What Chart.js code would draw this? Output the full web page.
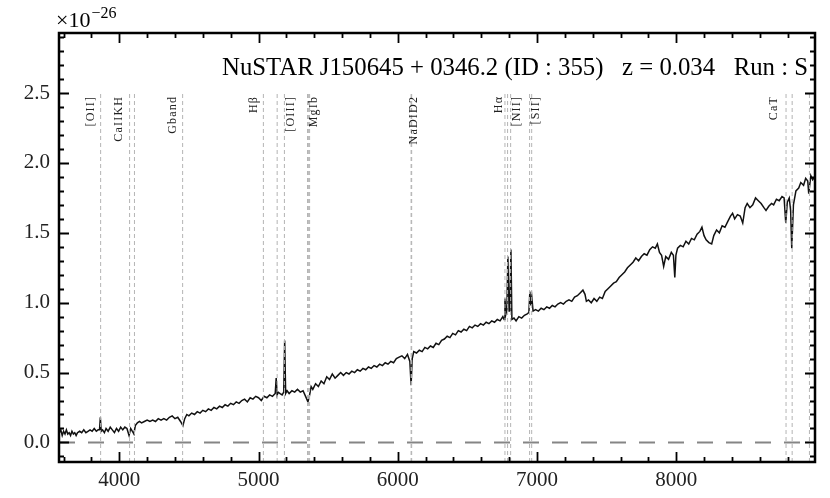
<!DOCTYPE html>
<html><head><meta charset="utf-8">
<script src="https://cdn.jsdelivr.net/npm/chart.js@4"></script>
<style>html,body{margin:0;padding:0;background:#fff}#wrap{width:830px;height:498px;position:relative}</style>
</head><body><div id="wrap"><canvas id="c" width="830" height="498"></canvas></div>
<script>
// ---- data (observed wavelength in Å, flux in units of 1e-26) ----
const wavelength = [3570,3580,3590,3600,3610,3620,3630,3640,3650,3660,3670,3680,3690,3700,3715,3730,3745,3760,3775,3790,3805,3820,3835,3848,3858,3864,3870,3880,3893,3905,3920,3935,3950,3965,3980,3995,4010,4025,4040,4055,4070,4082,4094,4105,4115,4130,4145,4160,4180,4200,4220,4240,4260,4280,4300,4320,4340,4360,4380,4400,4420,4440,4457,4470,4485,4500,4520,4540,4560,4580,4600,4620,4640,4660,4680,4700,4720,4740,4760,4780,4800,4820,4840,4860,4880,4900,4920,4940,4960,4980,5000,5020,5040,5060,5080,5100,5120,5127,5134,5141,5155,5170,5181,5188,5195,5205,5220,5240,5260,5280,5300,5320,5338,5355,5365,5378,5390,5410,5430,5450,5470,5490,5510,5530,5550,5570,5590,5610,5630,5650,5670,5690,5710,5730,5750,5770,5790,5810,5830,5850,5870,5890,5910,5930,5950,5970,5990,6010,6030,6050,6070,6087,6096,6104,6115,6135,6155,6175,6195,6215,6235,6255,6275,6295,6315,6335,6355,6375,6395,6415,6435,6455,6475,6495,6515,6535,6555,6575,6595,6615,6635,6655,6675,6695,6715,6735,6755,6764,6770,6777,6784,6791,6800,6806,6813,6820,6835,6850,6870,6890,6910,6930,6942,6949,6956,6963,6972,6990,7010,7030,7050,7070,7090,7110,7130,7150,7170,7190,7210,7230,7250,7270,7290,7310,7330,7345,7355,7370,7390,7410,7430,7450,7470,7490,7510,7530,7550,7570,7590,7610,7630,7650,7670,7690,7710,7730,7750,7770,7790,7810,7830,7850,7865,7880,7895,7910,7925,7945,7965,7980,7990,7998,8010,8030,8050,8070,8090,8110,8130,8150,8170,8185,8200,8215,8235,8255,8270,8290,8310,8330,8350,8370,8390,8405,8420,8440,8460,8478,8495,8510,8530,8550,8570,8590,8610,8630,8645,8665,8685,8700,8720,8740,8760,8775,8787,8798,8812,8822,8830,8842,8860,8880,8895,8915,8930,8945,8952,8967,8980,8995];
const flux = [0.07,0.09,0.05,0.08,0.06,0.09,0.06,0.07,0.05,0.08,0.06,0.07,0.05,0.07,0.08,0.07,0.09,0.07,0.08,0.09,0.08,0.10,0.08,0.09,0.09,0.18,0.08,0.09,0.07,0.10,0.08,0.11,0.09,0.07,0.10,0.08,0.11,0.09,0.11,0.10,0.05,0.10,0.08,0.06,0.12,0.14,0.15,0.14,0.15,0.16,0.15,0.16,0.15,0.17,0.16,0.17,0.16,0.18,0.19,0.17,0.18,0.15,0.12,0.17,0.20,0.19,0.21,0.20,0.22,0.21,0.23,0.22,0.24,0.23,0.25,0.24,0.26,0.25,0.27,0.26,0.28,0.27,0.29,0.28,0.30,0.31,0.29,0.32,0.31,0.33,0.32,0.30,0.33,0.32,0.34,0.33,0.35,0.46,0.34,0.36,0.35,0.34,0.36,0.73,0.35,0.37,0.35,0.37,0.36,0.38,0.36,0.37,0.33,0.29,0.33,0.40,0.38,0.42,0.40,0.44,0.42,0.47,0.45,0.49,0.46,0.48,0.50,0.48,0.50,0.49,0.51,0.50,0.52,0.51,0.53,0.52,0.54,0.53,0.55,0.54,0.56,0.55,0.57,0.56,0.58,0.57,0.60,0.61,0.62,0.60,0.63,0.58,0.41,0.60,0.65,0.64,0.66,0.65,0.68,0.67,0.69,0.68,0.71,0.70,0.73,0.74,0.76,0.75,0.78,0.77,0.80,0.79,0.81,0.80,0.83,0.82,0.84,0.83,0.85,0.84,0.86,0.85,0.87,0.86,0.88,0.87,0.90,0.88,1.03,0.92,0.95,1.33,0.94,0.97,1.38,0.88,0.89,0.87,0.90,0.89,0.91,0.92,0.93,1.08,0.98,1.04,0.94,0.95,0.94,0.96,0.95,0.97,0.96,0.98,0.97,0.99,1.00,0.99,1.01,1.02,1.01,1.04,1.05,1.07,1.09,1.06,1.01,1.02,1.00,1.03,1.01,1.04,1.03,1.08,1.10,1.12,1.14,1.15,1.18,1.20,1.22,1.25,1.27,1.29,1.32,1.30,1.33,1.35,1.34,1.38,1.40,1.39,1.42,1.36,1.34,1.26,1.33,1.31,1.36,1.34,1.18,1.34,1.39,1.41,1.40,1.44,1.42,1.46,1.45,1.49,1.51,1.54,1.48,1.45,1.43,1.42,1.48,1.52,1.50,1.55,1.54,1.58,1.62,1.64,1.60,1.63,1.62,1.57,1.68,1.71,1.68,1.70,1.75,1.73,1.71,1.68,1.66,1.69,1.71,1.70,1.74,1.73,1.76,1.75,1.57,1.72,1.75,1.66,1.39,1.70,1.80,1.82,1.86,1.84,1.89,1.87,1.78,1.91,1.88,1.90];
const lineWaves = [3866,4074,4109,4455,5035,5134,5186,5352,5358,5367,6096,6100,6770,6789,6811,6947,6962,8789,8833,8957];
const lineLabels = ['[OII]','CaIIKH','Gband','H\u03B2','[OIII]','MgIb','NaDID2','H\u03B1','[NII]','[SII]','CaT'];
const labelWaves = [3797,3998,4386,4967,5233,5398,6116,6727,6856,6993,8704];
const xTicks = [4000,5000,6000,7000,8000];
const yTicks = [0,0.5,1,1.5,2,2.5];
const titleText = 'NuSTAR J150645 + 0346.2 (ID : 355)   z = 0.034   Run : S';
const xRange = [3567, 8997];
const yRange = [-0.14, 2.93];
const lineTop = 2.51;
const labelTop = 2.48;

const SERIF = '"Liberation Serif", "DejaVu Serif", serif';

const spectrum = wavelength.map((w, i) => ({x: w, y: flux[i]}));
const datasets = [];
lineWaves.forEach(w => {
  datasets.push({data: [{x: w, y: yRange[0]}, {x: w, y: lineTop}], borderColor: '#b4b4b4', borderWidth: 1, borderDash: [4, 3], pointRadius: 0, showLine: true});
});
datasets.push({data: [{x: xRange[0], y: 0}, {x: xRange[1], y: 0}], borderColor: '#858585', borderWidth: 2, borderDash: [16, 13], pointRadius: 0, showLine: true});
datasets.push({data: spectrum, borderColor: '#111', borderWidth: 1.5, pointRadius: 0, showLine: true, tension: 0});

const decor = {
  id: 'decor',
  afterDraw(chart) {
    const ctx = chart.ctx, a = chart.chartArea, xs = chart.scales.x, ys = chart.scales.y;
    ctx.save();
    // line labels
    ctx.fillStyle = '#222';
    ctx.font = '12px ' + SERIF;
    if ('letterSpacing' in ctx) ctx.letterSpacing = '1.2px';
    ctx.textAlign = 'right';
    ctx.textBaseline = 'middle';
    lineLabels.forEach((t, i) => {
      const px = xs.getPixelForValue(labelWaves[i]);
      const py = ys.getPixelForValue(labelTop);
      ctx.save();
      ctx.translate(px, py);
      ctx.rotate(-Math.PI / 2);
      ctx.fillText(t, 0, 0);
      ctx.restore();
    });
    if ('letterSpacing' in ctx) ctx.letterSpacing = '0px';
    // ticks (inward, all four sides)
    ctx.strokeStyle = '#000';
    ctx.lineWidth = 1.8;
    ctx.beginPath();
    for (let v = 3600; v <= 9000; v += 200) {
      if (v < xRange[0] || v > xRange[1]) continue;
      const major = v % 1000 === 0;
      const len = major ? 10 : 5;
      const px = Math.round(xs.getPixelForValue(v)) + 0.5;
      ctx.moveTo(px, a.bottom); ctx.lineTo(px, a.bottom - len);
      ctx.moveTo(px, a.top); ctx.lineTo(px, a.top + len);
    }
    for (let k = -1; k <= 29; k++) {
      const v = k / 10;
      const major = k % 5 === 0;
      const len = major ? 10 : 5;
      const py = Math.round(ys.getPixelForValue(v)) + 0.5;
      ctx.moveTo(a.left, py); ctx.lineTo(a.left + len, py);
      ctx.moveTo(a.right, py); ctx.lineTo(a.right - len, py);
    }
    ctx.stroke();
    // frame
    ctx.lineWidth = 2.5;
    ctx.strokeRect(a.left, a.top, a.right - a.left, a.bottom - a.top);
    // title
    ctx.fillStyle = '#000';
    ctx.textAlign = 'right';
    ctx.textBaseline = 'alphabetic';
    let fs = 20;
    ctx.font = fs + 'px ' + SERIF;
    const w = ctx.measureText(titleText).width;
    fs = fs * 586 / w;
    ctx.font = fs.toFixed(2) + 'px ' + SERIF;
    ctx.fillText(titleText, a.right - 7, 75);
    // multiplier
    ctx.textAlign = 'left';
    ctx.font = '22px ' + SERIF;
    ctx.fillText('\u00D710', 56, 27);
    const mw = ctx.measureText('\u00D710').width;
    ctx.font = '16px ' + SERIF;
    ctx.fillText('\u221226', 56 + mw + 1, 18);
    ctx.restore();
  }
};

new Chart(document.getElementById('c'), {
  type: 'scatter',
  data: {datasets},
  options: {
    responsive: false,
    devicePixelRatio: 1,
    animation: false,
    layout: {padding: {top: 33, right: 15, left: 0, bottom: 0}},
    plugins: {legend: {display: false}, tooltip: {enabled: false}},
    scales: {
      x: {
        type: 'linear', position: 'bottom', min: xRange[0], max: xRange[1],
        grid: {display: false, drawTicks: false},
        border: {display: false},
        ticks: {font: {family: SERIF, size: 21}, color: '#222', padding: 6, maxRotation: 0, callback: v => String(v)},
        afterBuildTicks: s => { s.ticks = xTicks.map(v => ({value: v})); },
        afterFit: s => { s.height = 36; }
      },
      y: {
        type: 'linear', min: yRange[0], max: yRange[1],
        grid: {display: false, drawTicks: false},
        border: {display: false},
        ticks: {font: {family: SERIF, size: 21}, color: '#222', padding: 9, callback: v => Number(v).toFixed(1)},
        afterBuildTicks: s => { s.ticks = yTicks.map(v => ({value: v})); },
        afterFit: s => { s.width = 59; }
      }
    }
  },
  plugins: [decor]
});
</script>
</body></html>
